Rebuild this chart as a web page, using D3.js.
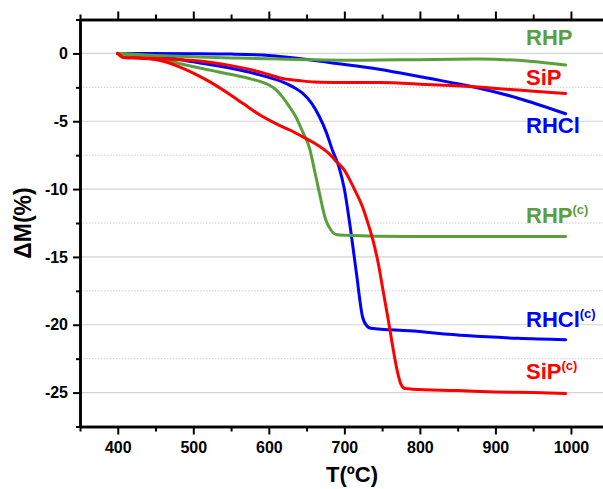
<!DOCTYPE html>
<html>
<head>
<meta charset="utf-8">
<script src="https://cdn.jsdelivr.net/npm/d3@7"></script>
<style>
  body { margin: 0; background: #fff; }
  text { font-family: "Liberation Sans", Arial, sans-serif; font-weight: bold; }
</style>
</head>
<body>
<svg id="chart"></svg>
<script>
const width = 603;
const height = 489;

// TGA curves: temperature (ºC) and mass change (%)
const rhpT = [400, 450, 500, 550, 600, 650, 700, 746, 800, 879, 945, 993];
const rhpM = [0, -0.15, -0.25, -0.33, -0.4, -0.46, -0.5, -0.49, -0.46, -0.42, -0.57, -0.86];

const sipT = [400, 408, 430, 460, 500, 522, 550, 588, 618, 640, 660, 700, 746, 808, 870, 930, 993];
const sipM = [0, -0.3, -0.33, -0.4, -0.52, -0.65, -0.9, -1.36, -1.85, -2.0, -2.1, -2.14, -2.15, -2.29, -2.46, -2.7, -2.95];

const rhclT = [400, 500, 550, 600, 640, 680, 746, 808, 870, 930, 993];
const rhclM = [0, -0.02, -0.05, -0.15, -0.37, -0.67, -1.16, -1.8, -2.46, -3.3, -4.45];

const rhpcT = [400, 430, 455, 490, 522, 550, 574, 590, 601, 610, 618, 627, 636, 645, 654, 660, 667, 675, 682, 689, 700, 786, 900, 993];
const rhpcM = [0, -0.2, -0.4, -0.85, -1.23, -1.55, -1.85, -2.1, -2.35, -2.7, -3.2, -3.9, -4.7, -5.8, -7.0, -8.5, -10.3, -12.2, -13.0, -13.35, -13.4, -13.5, -13.5, -13.5];

const rhclcT = [400, 450, 500, 522, 550, 588, 618, 633, 645, 657, 667, 676, 684, 693, 700, 707, 716, 724, 730, 735, 786, 861, 930, 993];
const rhclcM = [0, -0.15, -0.62, -0.82, -1.1, -1.58, -2.1, -2.5, -2.95, -3.7, -4.67, -5.8, -7.1, -8.4, -10.0, -12.5, -16.2, -19.4, -20.1, -20.25, -20.45, -20.8, -21.0, -21.1];

const sipcT = [400, 408, 430, 455, 480, 500, 522, 545, 566, 590, 610, 630, 645, 660, 680, 690, 700, 707, 715, 724, 730, 738, 745, 751, 758, 764, 770, 775, 780, 790, 850, 900, 950, 993];
const sipcM = [0, -0.3, -0.35, -0.5, -0.95, -1.45, -2.1, -2.9, -3.7, -4.6, -5.2, -5.7, -6.15, -6.6, -7.4, -8.0, -8.6, -9.3, -10.2, -11.3, -12.3, -13.8, -15.5, -17.4, -19.6, -21.6, -23.4, -24.4, -24.7, -24.75, -24.85, -24.95, -25.0, -25.07];

const xMajor = [400, 500, 600, 700, 800, 900, 1000];
const xMinor = [350, 450, 550, 650, 750, 850, 950, 1050];
const yMajor = [0, -5, -10, -15, -20, -25];
const yMinor = [2.5, -2.5, -7.5, -12.5, -17.5, -22.5, -27.5];

const green = "#5b9e3c";
const red = "#ff0000";
const blue = "#0000ff";

// draw order: blue lower under the red one, as in the picture
const series = [
  { t: rhclT, m: rhclM, color: blue },
  { t: rhclcT, m: rhclcM, color: blue },
  { t: rhpT, m: rhpM, color: green },
  { t: rhpcT, m: rhpcM, color: green },
  { t: sipT, m: sipM, color: red },
  { t: sipcT, m: sipcM, color: red }
];

const labels = [
  { name: "RHP", sup: "", color: green, x: 526, y: 45 },
  { name: "SiP", sup: "", color: red, x: 526, y: 85 },
  { name: "RHCl", sup: "", color: blue, x: 526, y: 133 },
  { name: "RHP", sup: "(c)", color: green, x: 526, y: 223 },
  { name: "RHCl", sup: "(c)", color: blue, x: 526, y: 327 },
  { name: "SiP", sup: "(c)", color: red, x: 526, y: 379 }
];

const plotLeft = 80, plotTop = 19.5, plotBottom = 426.5;

const svg = d3.select("#chart")
  .attr("width", width)
  .attr("height", height);

const x = d3.scaleLinear().domain([350, 1050]).range([plotLeft, plotLeft + 700 * 0.7553]);
const y = d3.scaleLinear().domain([2.5, -27.5]).range([plotTop, plotBottom]);

// grid lines
svg.append("g")
  .selectAll("line")
  .data(yMajor)
  .join("line")
  .attr("x1", plotLeft).attr("x2", width)
  .attr("y1", d => y(d)).attr("y2", d => y(d))
  .attr("stroke", "#d4d4d4")
  .attr("stroke-width", 1.2);

svg.append("g")
  .selectAll("line")
  .data(yMinor.slice(1, -1))
  .join("line")
  .attr("x1", plotLeft).attr("x2", width)
  .attr("y1", d => y(d)).attr("y2", d => y(d))
  .attr("stroke", "#cfcfcf")
  .attr("stroke-width", 1)
  .attr("stroke-dasharray", "1.5,1.5");

// curves
const line = d3.line()
  .x(d => x(d[0]))
  .y(d => y(d[1]))
  .curve(d3.curveMonotoneX);

svg.append("g")
  .selectAll("path")
  .data(series)
  .join("path")
  .attr("d", s => line(s.t.map((t, i) => [t, s.m[i]])))
  .attr("fill", "none")
  .attr("stroke", s => s.color)
  .attr("stroke-width", 3)
  .attr("stroke-linejoin", "round")
  .attr("stroke-linecap", "round");

// axes
const plain = d => String(d);

function styleAxis(g) {
  g.select(".domain").attr("stroke", "#000").attr("stroke-width", 2.5);
  g.selectAll(".tick line").attr("stroke", "#000").attr("stroke-width", 2);
  g.selectAll(".tick text").attr("fill", "#000").style("font-size", "16px").style("font-weight", "bold");
}

svg.append("g")
  .attr("transform", `translate(0,${plotBottom})`)
  .call(d3.axisBottom(x).tickValues(xMajor).tickFormat(plain).tickSize(8).tickPadding(7).tickSizeOuter(0))
  .call(styleAxis);
svg.append("g")
  .attr("transform", `translate(0,${plotBottom})`)
  .call(d3.axisBottom(x).tickValues(xMinor).tickSize(5).tickFormat("").tickSizeOuter(0))
  .call(styleAxis);

svg.append("g")
  .attr("transform", `translate(0,${plotTop})`)
  .call(d3.axisTop(x).tickValues(xMajor).tickSize(8).tickFormat("").tickSizeOuter(0))
  .call(styleAxis);
svg.append("g")
  .attr("transform", `translate(0,${plotTop})`)
  .call(d3.axisTop(x).tickValues(xMinor).tickSize(5).tickFormat("").tickSizeOuter(0))
  .call(styleAxis);

svg.append("g")
  .attr("transform", `translate(${plotLeft},0)`)
  .call(d3.axisLeft(y).tickValues(yMajor).tickFormat(plain).tickSize(7).tickPadding(5).tickSizeOuter(0))
  .call(styleAxis);
svg.append("g")
  .attr("transform", `translate(${plotLeft},0)`)
  .call(d3.axisLeft(y).tickValues(yMinor).tickSize(4).tickFormat("").tickSizeOuter(0))
  .call(styleAxis);

// axis titles
svg.append("text")
  .attr("x", 352)
  .attr("y", 482)
  .attr("text-anchor", "middle")
  .style("font-size", "22px")
  .text("T(ºC)");

svg.append("text")
  .attr("transform", `translate(31,${(plotTop + plotBottom) / 2}) rotate(-90)`)
  .attr("text-anchor", "middle")
  .style("font-size", "23px")
  .text("ΔM(%)");

// curve labels
const lab = svg.append("g")
  .selectAll("text")
  .data(labels)
  .join("text")
  .attr("x", d => d.x)
  .attr("y", d => d.y)
  .attr("fill", d => d.color)
  .style("font-size", "22px");

lab.append("tspan").text(d => d.name);
lab.filter(d => d.sup)
  .append("tspan")
  .attr("dy", -9)
  .style("font-size", "13px")
  .text(d => d.sup);
</script>
</body>
</html>
